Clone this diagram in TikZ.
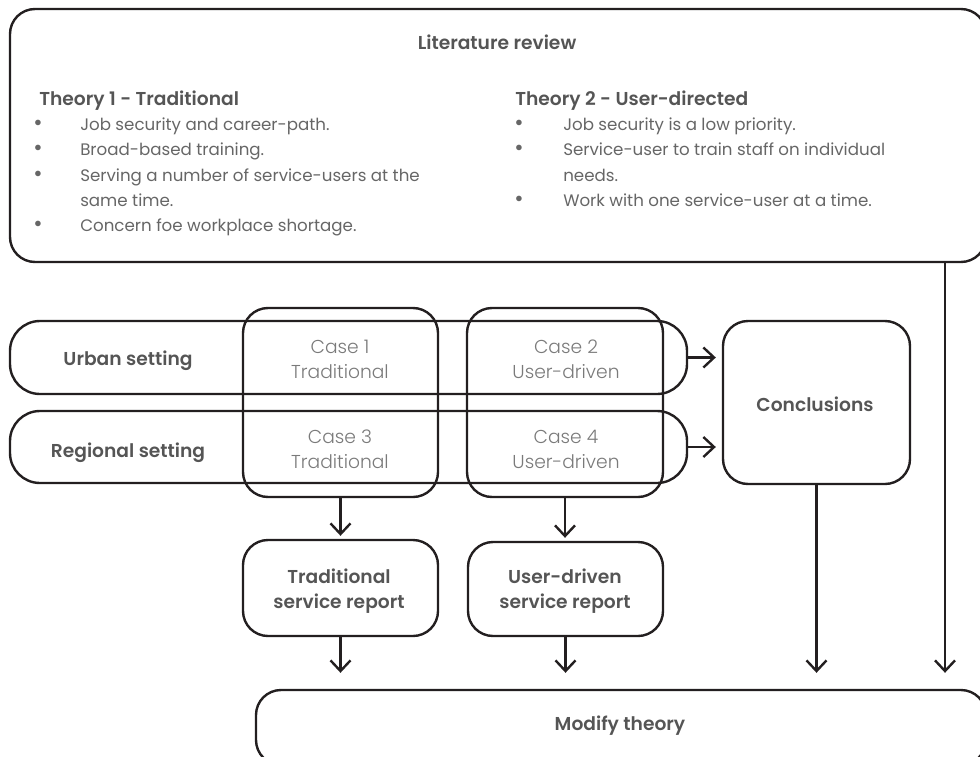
\documentclass[tikz,border=0pt]{standalone}
\usepackage{fontspec}
\setmainfont{Poppins}[BoldFont=* SemiBold]
\newfontfamily\lightfont{Poppins Light}
\usetikzlibrary{arrows.meta}
\definecolor{ln}{HTML}{231F20}
\definecolor{hdc}{HTML}{555555}
\definecolor{bdc}{HTML}{666666}
\definecolor{csc}{HTML}{7A7A7A}
\begin{document}
\begin{tikzpicture}[x=0.75pt,y=-0.75pt,
  box/.style 2 args={draw=ln,line width=1.8pt,rounded corners=18.75pt,inner sep=0pt,
     minimum width={#1*0.75pt},minimum height={#2*0.75pt}},
  pill/.style 2 args={box={#1}{#2},rounded corners=22.5pt},
  hd/.style={font=\fontsize{14}{18}\selectfont\bfseries,text=hdc,anchor=base,inner sep=0pt},
  hdl/.style={hd,anchor=base west},
  bd/.style={font=\fontsize{12.5}{18}\selectfont,text=bdc,anchor=base west,inner sep=0pt},
  bul/.style={font=\fontsize{17}{18}\selectfont,text=bdc,anchor=base,inner sep=0pt},
  cs/.style={font=\fontsize{14}{18}\selectfont\lightfont,text=csc,anchor=base,inner sep=0pt},
  arr/.style={draw=ln,line width=1.8pt,-{Straight Barb[length=8pt,width=15pt,line width=1.8pt]}}
]
\useasboundingbox (0,0) rectangle (980,756);
\clip (0,0) rectangle (980,756);
% boxes
\node[box={976}{253}] (lit) at (498,135.5) {};
\node[pill={677}{73}] (urban) at (348.5,357.5) {};
\node[pill={677}{72}] (regional) at (348.5,447) {};
\node[box={195}{189}] (c13) at (340.5,402.5) {};
\node[box={196}{189}] (c24) at (565,402.5) {};
\node[box={187}{163}] (concl) at (816.5,402.5) {};
\node[box={195}{96}] (trad) at (340.5,588) {};
\node[box={195}{94}] (user) at (565.5,589) {};
\node[box={730}{75}] (mod) at (621,727.5) {};
% literature review text
\node[hd] (littitle) at (497,50) {Literature review};
\node[hdl] (th1) at (39,106) {Theory 1 - Traditional};
\node[bul] (b1a) at (38,131) {\textbullet};
\node[bd] (t1a) at (80,131) {Job security and career-path.};
\node[bul] (b1b) at (38,156) {\textbullet};
\node[bd] (t1b) at (80,156) {Broad-based training.};
\node[bul] (b1c) at (38,181) {\textbullet};
\node[bd] (t1c) at (80,181) {Serving a number of service-users at the};
\node[bd] (t1d) at (80,206) {same time.};
\node[bul] (b1e) at (38,231) {\textbullet};
\node[bd] (t1e) at (80,231) {Concern foe workplace shortage.};
\node[hdl] (th2) at (515,106) {Theory 2 - User-directed};
\node[bul] (b2a) at (519,131) {\textbullet};
\node[bd] (t2a) at (563,131) {Job security is a low priority.};
\node[bul] (b2b) at (519,156) {\textbullet};
\node[bd] (t2b) at (563,156) {Service-user to train staff on individual};
\node[bd] (t2c) at (563,181) {needs.};
\node[bul] (b2d) at (519,206) {\textbullet};
\node[bd] (t2d) at (563,206) {Work with one service-user at a time.};
% settings and cases
\node[hd] (ul) at (128,365) {Urban setting};
\node[hd] (rl) at (128,457) {Regional setting};
\node[cs] (c1a) at (340,353) {Case 1};
\node[cs] (c1b) at (340,378) {Traditional};
\node[cs] (c3a) at (340,443) {Case 3};
\node[cs] (c3b) at (340,468) {Traditional};
\node[cs] (c2a) at (566,353) {Case 2};
\node[cs] (c2b) at (566,378) {User-driven};
\node[cs] (c4a) at (566,443) {Case 4};
\node[cs] (c4b) at (566,468) {User-driven};
\node[hd] (cl) at (815,411) {Conclusions};
\node[hd] (tra) at (339,583) {Traditional};
\node[hd] (trb) at (339,608) {service report};
\node[hd] (usa) at (565,583) {User-driven};
\node[hd] (usb) at (565,608) {service report};
\node[hd] (ml) at (620,730) {Modify theory};
% connectors
\draw[arr,shorten >=4.5pt] (urban.east) -- (concl.west |- urban.east);
\draw[arr,shorten >=4.5pt] (regional.east) -- (concl.west |- regional.east);
\draw[arr,shorten >=2.25pt] (c13.south) -- (trad.north);
\draw[arr,shorten >=2.25pt] (c24.south) -- (c24.south |- user.north);
\draw[arr,shorten >=12pt] (trad.south) -- (trad.south |- mod.north);
\draw[arr,shorten >=12pt] (user.south) -- (user.south |- mod.north);
\draw[arr,shorten >=12pt] (concl.south) -- (concl.south |- mod.north);
\coordinate (lo) at (945,262);
\draw[arr,shorten >=12pt] (lo) -- (lo |- mod.north);
\end{tikzpicture}
\end{document}
